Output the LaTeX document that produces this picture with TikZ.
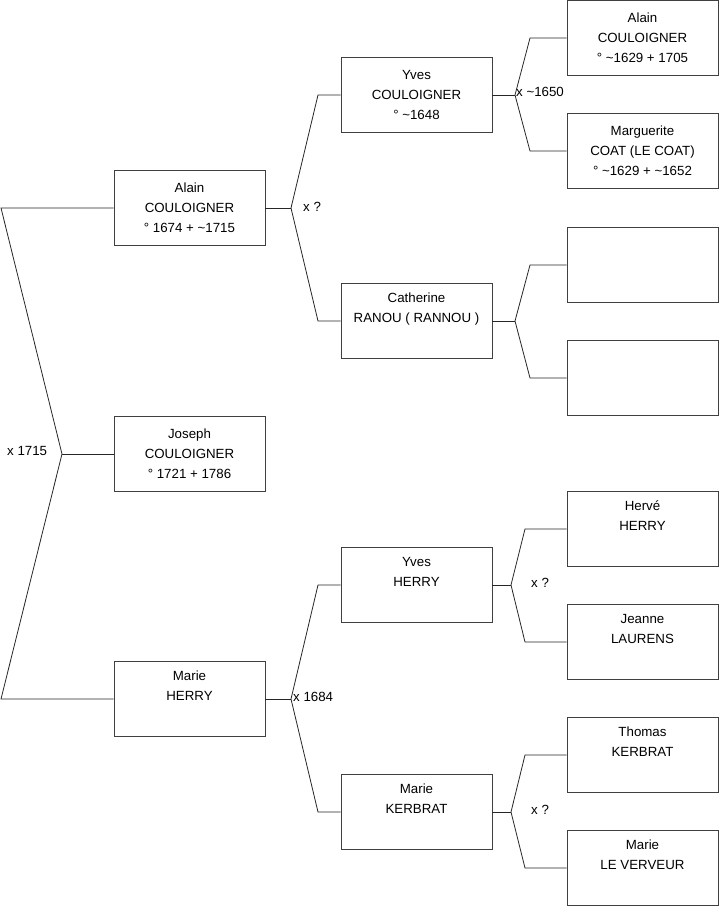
\documentclass[tikz,border=0pt]{standalone}
\usepackage{fontspec}
\setmainfont{Liberation Sans}

\begin{document}
\begin{tikzpicture}[x=1pt, y=-1pt,
        person/.style={draw=black!75, line width=0.9pt, minimum width=151pt,
            minimum height=75pt, align=center, inner sep=0pt},
        link/.style={draw=black!85, line width=0.8pt},
        union/.style={anchor=west, inner sep=0pt},
        every node/.style={font=\fontsize{13.3}{20}\selectfont}]
    \useasboundingbox (0,0) rectangle (719,908);

    % generation 1
    \node[person] (alain)  at (189.5,208) {Alain\\COULOIGNER\\° 1674 + \textasciitilde1715};
    \node[person] (joseph) at (189.5,454) {Joseph\\COULOIGNER\\° 1721 + 1786};
    \node[person] (marie)  at (189.5,699) {Marie\\HERRY\\\strut};

    % generation 2
    \node[person] (yvesC)     at (416.5,95)  {Yves\\COULOIGNER\\° \textasciitilde1648};
    \node[person] (catherine) at (416.5,321) {Catherine\\RANOU ( RANNOU )\\\strut};
    \node[person] (yvesH)     at (416.5,585) {Yves\\HERRY\\\strut};
    \node[person] (marieK)    at (416.5,812) {Marie\\KERBRAT\\\strut};

    % generation 3
    \node[person] (alainC)     at (642.5,38)  {Alain\\COULOIGNER\\° \textasciitilde1629 + 1705};
    \node[person] (marguerite) at (642.5,151) {Marguerite\\COAT (LE COAT)\\° \textasciitilde1629 + \textasciitilde1652};
    \node[person] (blank1)     at (642.5,265) {};
    \node[person] (blank2)     at (642.5,378) {};
    \node[person] (herve)      at (642.5,529) {Hervé\\HERRY\\\strut};
    \node[person] (jeanne)     at (642.5,642) {Jeanne\\LAURENS\\\strut};
    \node[person] (thomas)     at (642.5,755) {Thomas\\KERBRAT\\\strut};
    \node[person] (marieL)     at (642.5,868) {Marie\\LE VERVEUR\\\strut};

    % junctions
    \coordinate (jRootA) at (1,208);
    \coordinate (jRoot)  at (62,454);
    \coordinate (jRootM) at (1,699);
    \coordinate (jAlain) at (291,208);
    \coordinate (jMarie) at (291,699);
    \coordinate (jYvesC) at (515,95);
    \coordinate (jCath)  at (515,321);
    \coordinate (jYvesH) at (511,585);
    \coordinate (jMarieK) at (511,812);

    % couple labels
    \node[union] (uRoot)   at (7,451)   {x 1715};
    \node[union] (uAlain)  at (303,207) {x ?};
    \node[union] (uMarie)  at (293,697) {x 1684};
    \node[union] (uYvesC)  at (516,92)  {x \textasciitilde1650};
    \node[union] (uYvesH)  at (531,583) {x ?};
    \node[union] (uMarieK) at (531,810) {x ?};

    % links
    \draw[link] (alain.west) -- (jRootA) -- (jRoot) -- (jRootM) -- (marie.west);
    \draw[link] (jRoot) -- (joseph.west);

    \draw[link] (alain.east) -- (jAlain);
    \draw[link] (jAlain) -- (318,95) -- (yvesC.west);
    \draw[link] (jAlain) -- (318,321) -- (catherine.west);
    \draw[link] (marie.east) -- (jMarie);
    \draw[link] (jMarie) -- (318,585) -- (yvesH.west);
    \draw[link] (jMarie) -- (318,812) -- (marieK.west);

    \draw[link] (yvesC.east) -- (jYvesC);
    \draw[link] (jYvesC) -- (530,38) -- (alainC.west);
    \draw[link] (jYvesC) -- (530,151) -- (marguerite.west);
    \draw[link] (catherine.east) -- (jCath);
    \draw[link] (jCath) -- (530,265) -- (blank1.west);
    \draw[link] (jCath) -- (530,378) -- (blank2.west);
    \draw[link] (yvesH.east) -- (jYvesH);
    \draw[link] (jYvesH) -- (525,529) -- (herve.west);
    \draw[link] (jYvesH) -- (525,642) -- (jeanne.west);
    \draw[link] (marieK.east) -- (jMarieK);
    \draw[link] (jMarieK) -- (525,755) -- (thomas.west);
    \draw[link] (jMarieK) -- (525,868) -- (marieL.west);
\end{tikzpicture}
\end{document}
